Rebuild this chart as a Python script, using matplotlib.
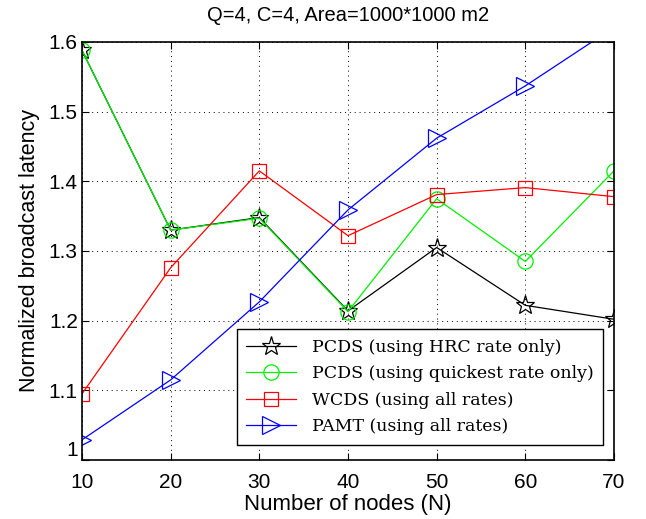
import matplotlib

matplotlib.use("Agg")
import matplotlib.pyplot as plt

plt.rcParams["font.family"] = ["Liberation Sans", "DejaVu Sans"]

nodes = [10, 20, 30, 40, 50, 60, 70]
pcds_hrc = [1.588, 1.330, 1.348, 1.214, 1.305, 1.222, 1.202]
pcds_quick = [1.588, 1.330, 1.347, 1.213, 1.375, 1.285, 1.415]
wcds = [1.095, 1.276, 1.415, 1.322, 1.381, 1.391, 1.378]
pamt = [1.029, 1.115, 1.227, 1.359, 1.462, 1.537, 1.621]

yticks = [1, 1.1, 1.2, 1.3, 1.4, 1.5, 1.6]
ytick_labels = ["1", "1.1", "1.2", "1.3", "1.4", "1.5", "1.6"]

fig = plt.figure(figsize=(6.46, 5.19), dpi=100)
ax = fig.add_axes([82 / 646, 1 - 460 / 519, 532 / 646, 418 / 519])

# matlab default line colours: k, g, r, b
series = (
    (pcds_hrc, "#000000", "*", 14, "PCDS (using HRC rate only)"),
    (pcds_quick, "#00f000", "o", 11, "PCDS (using quickest rate only)"),
    (wcds, "#ff0000", "s", 10, "WCDS (using all rates)"),
    (pamt, "#0000ff", ">", 13, "PAMT (using all rates)"),
)
for vals, color, mk, ms, name in series:
    ax.plot(nodes, vals, "-", color=color, marker=mk, markersize=ms,
            markerfacecolor="none", markeredgecolor=color, markeredgewidth=0.9,
            linewidth=0.9, label=name)

ax.set_xlim(10, 70)
ax.set_ylim(1, 1.6)
ax.set_xticks(nodes)
ax.set_yticks(yticks)
ax.set_yticklabels(ytick_labels)
ax.tick_params(direction="in", labelsize=15, top=True, right=True, length=5)
ax.tick_params(axis="x", pad=9)
ax.tick_params(axis="y", pad=3)
# matlab puts the bottom y label just above the corner
ax.get_yticklabels()[0].set_va("bottom")
ax.grid(True, linestyle=(0, (1, 4)), color="k", linewidth=0.7)
for s in ax.spines.values():
    s.set_linewidth(1.2)
ax.set_xlabel("Number of nodes (N)", fontsize=16, labelpad=2)
ax.set_ylabel("Normalized broadcast latency", fontsize=15.5, labelpad=6)
ax.set_title("Q=4, C=4, Area=1000*1000 m2", fontsize=14.5, pad=15)

leg = ax.legend(loc="lower right", bbox_to_anchor=(0.98, 0.036),
                borderaxespad=0,
                prop={"family": "DejaVu Serif", "size": 12.5},
                fancybox=False, edgecolor="k", framealpha=1,
                handlelength=2.9, handletextpad=0.9,
                borderpad=0.55, labelspacing=0.55)
leg.get_frame().set_linewidth(1.0)

fig.savefig("out.png", dpi=100)
